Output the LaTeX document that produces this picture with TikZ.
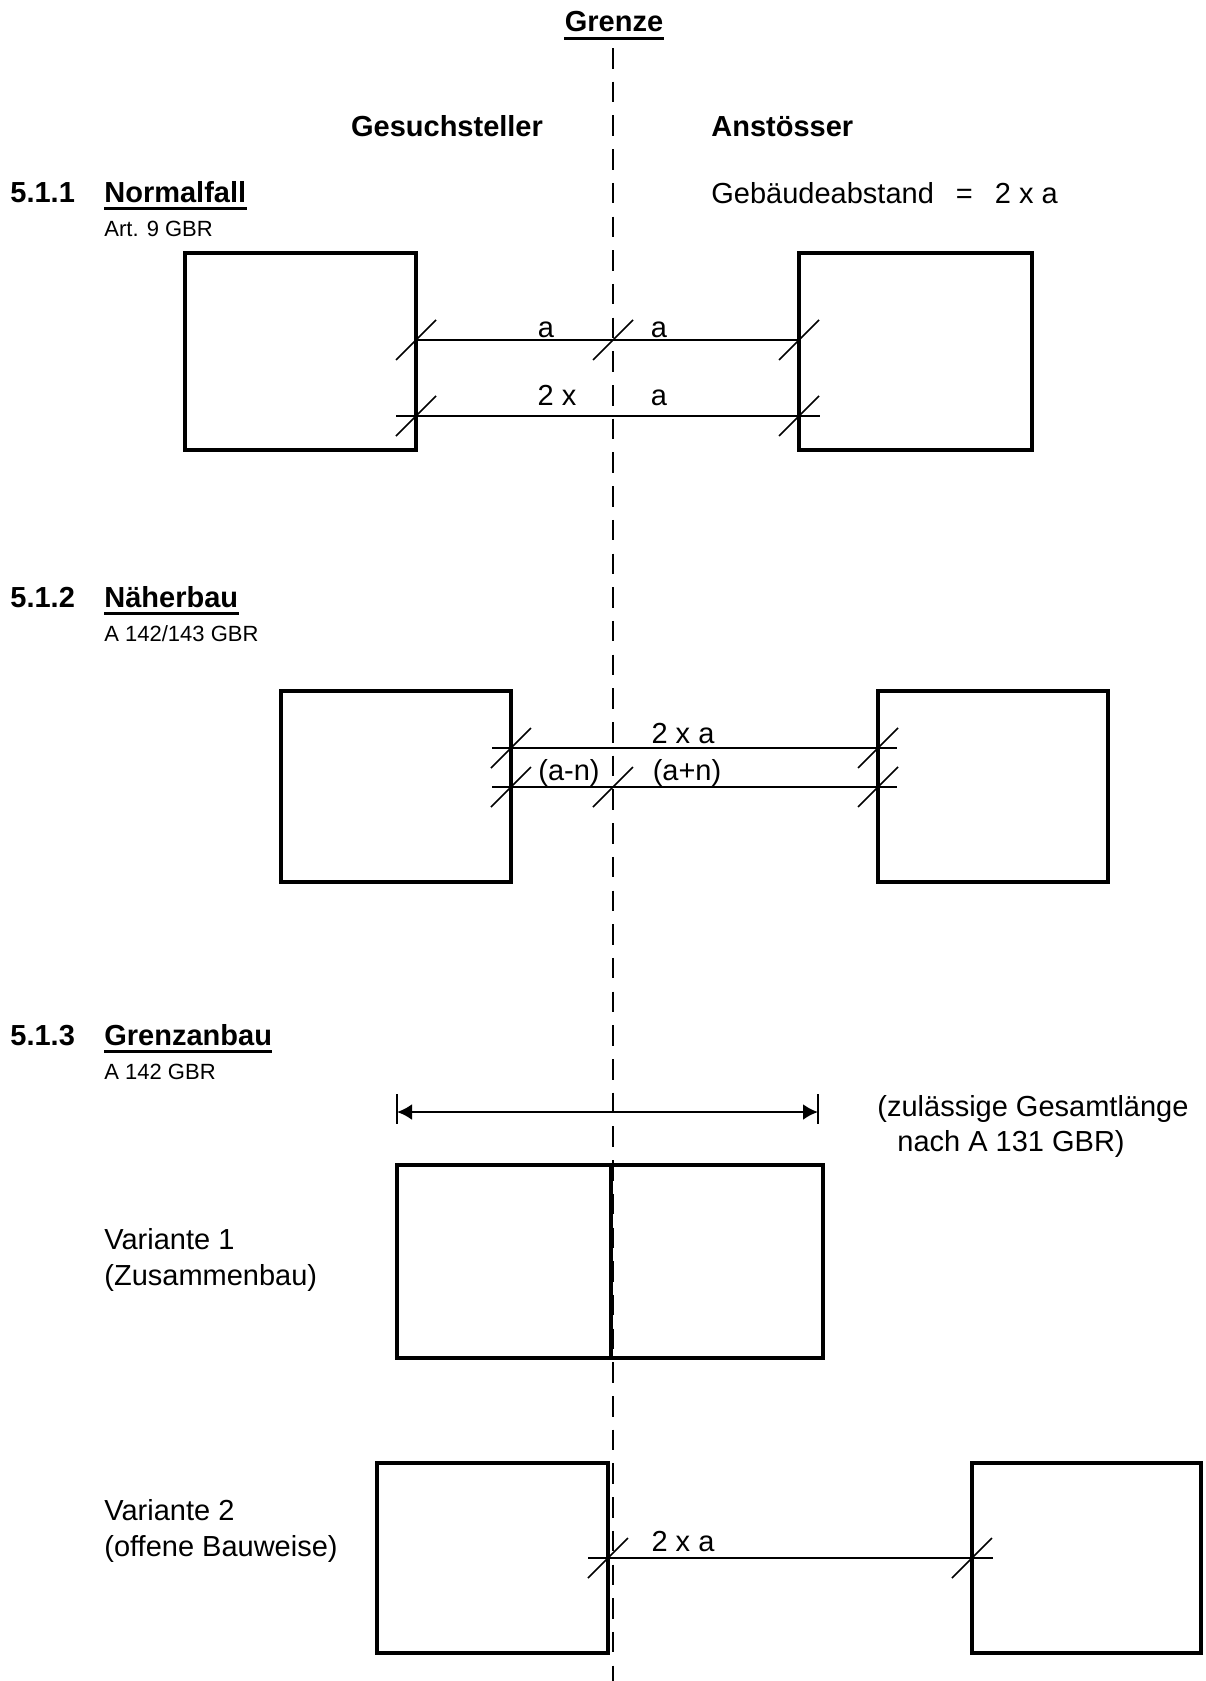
\documentclass[tikz,border=0pt]{standalone}
\usepackage{fontspec}
\setmainfont{Liberation Sans}
\usetikzlibrary{arrows.meta}
\tikzset{
  txt/.style={inner sep=0pt, anchor=base west, font=\fontsize{14.5}{17}\selectfont},
  txtc/.style={inner sep=0pt, anchor=base, font=\fontsize{14.5}{17}\selectfont},
  btxt/.style={inner sep=0pt, anchor=base west, font=\fontsize{14.5}{17}\selectfont\bfseries},
  stxt/.style={inner sep=0pt, anchor=base west, font=\fontsize{11}{13}\selectfont},
  house/.style={line width=1.8pt},
  dimline/.style={line width=1pt},
  thindim/.style={line width=0.75pt},
  tickmark/.style={line width=0.75pt},
  grenzline/.style={line width=1.4pt, dash pattern=on 10.25pt off 6.6pt},
  uline/.style={line width=1.5pt}
}
\newcommand{\tk}[1]{\draw[tickmark] (#1) ++(-20,20) -- ++(40,-40);}
\begin{document}
\begin{tikzpicture}[x=0.5pt,y=-0.5pt]
\useasboundingbox[fill=white] (0,0) rectangle (1205,1681);

% Grenze line
\coordinate (gtop) at (613,48);
\coordinate (gbot) at (613,1681);
\draw[grenzline] (gtop) -- (gbot);

% headings
\node[inner sep=0pt, anchor=base, font=\fontsize{14.5}{17}\selectfont\bfseries] (grenze) at (614,32) {Grenze};
\draw[uline] ([yshift=-3pt]grenze.base west) -- ([yshift=-3pt]grenze.base east);
\node[inner sep=0pt, anchor=base, font=\fontsize{14.5}{17}\selectfont\bfseries] (gesuch) at (447,136) {Gesuchsteller};
\node[btxt] (anst) at (711,136) {Anstösser};

% 5.1.1
\node[btxt] (n511) at (10,202) {5.1.1};
\node[btxt] (normal) at (104,202) {Normalfall};
\draw[uline] ([yshift=-3pt]normal.base west) -- ([yshift=-3pt]normal.base east);
\node[stxt] (art9) at (104,236) {Art. 9 GBR};
\node[txt] (gebaeude) at (711,203) {Gebäudeabstand\hspace{11pt}=\hspace{11pt}2 x a};

\draw[house] (185,253) rectangle (416,450);
\draw[house] (799,253) rectangle (1032,450);
\coordinate (l1a) at (416,340);
\coordinate (l1m) at (613,340);
\coordinate (l1b) at (799,340);
\draw[dimline] (l1a) -- (l1b);
\tk{l1a}\tk{l1m}\tk{l1b}
\coordinate (l2s) at (396,416);
\coordinate (l2e) at (820,416);
\coordinate (l2a) at (416,416);
\coordinate (l2b) at (799,416);
\draw[thindim] (l2s) -- (l2e);
\tk{l2a}\tk{l2b}
\node[txtc] (la1) at (546,337) {a};
\node[txtc] (la2) at (659,337) {a};
\node[txtc] (l2x) at (557,405) {2 x};
\node[txtc] (la3) at (659,405) {a};

% 5.1.2
\node[btxt] (n512) at (10,607) {5.1.2};
\node[btxt] (naeher) at (104,607) {Näherbau};
\draw[uline] ([yshift=-3pt]naeher.base west) -- ([yshift=-3pt]naeher.base east);
\node[stxt] (a143) at (104,641) {A 142/143 GBR};

\draw[house] (281,691) rectangle (511,882);
\draw[house] (878,691) rectangle (1108,882);
\coordinate (m1s) at (492,748);
\coordinate (m1e) at (897,748);
\coordinate (m1a) at (511,748);
\coordinate (m1b) at (878,748);
\draw[thindim] (m1s) -- (m1e);
\tk{m1a}\tk{m1b}
\coordinate (m2s) at (492,787);
\coordinate (m2e) at (897,787);
\coordinate (m2a) at (511,787);
\coordinate (m2m) at (613,787);
\coordinate (m2b) at (878,787);
\draw[dimline] (m2s) -- (m2e);
\tk{m2a}\tk{m2m}\tk{m2b}
\node[txtc] (m2xa) at (683,743) {2 x a};
\node[txtc] (amn) at (569,780) {(a-n)};
\node[txtc] (apn) at (687,780) {(a+n)};

% 5.1.3
\node[btxt] (n513) at (10,1045) {5.1.3};
\node[btxt] (grenzan) at (104,1045) {Grenzanbau};
\draw[uline] ([yshift=-3pt]grenzan.base west) -- ([yshift=-3pt]grenzan.base east);
\node[stxt] (a142) at (104,1079) {A 142 GBR};

\coordinate (arL) at (397,1112);
\coordinate (arR) at (818,1112);
\draw[line width=1.25pt, {Latex[length=7.5pt,width=8pt]}-{Latex[length=7.5pt,width=8pt]}] (arL) -- (arR);
\draw[line width=0.9pt] (397,1094) -- (397,1124);
\draw[line width=0.9pt] (818,1094) -- (818,1124);
\node[txt] (zul1) at (877,1116) {(zulässige Gesamtlänge};
\node[txt] (zul2) at (897,1151) {nach A 131 GBR)};

\node[txt] (v1a) at (104,1249) {Variante 1};
\node[txt] (v1b) at (104,1285) {(Zusammenbau)};
\draw[house] (397,1165) rectangle (823,1358);
\draw[house] (611,1165) -- (611,1358);

\node[txt] (v2a) at (104,1520) {Variante 2};
\node[txt] (v2b) at (104,1556) {(offene Bauweise)};
\draw[house] (377,1463) rectangle (608,1653);
\draw[house] (972,1463) rectangle (1201,1653);
\coordinate (v2s) at (588,1558);
\coordinate (v2e) at (993,1558);
\coordinate (v2a1) at (608,1558);
\coordinate (v2b1) at (972,1558);
\draw[thindim] (v2s) -- (v2e);
\tk{v2a1}\tk{v2b1}
\node[txtc] (v2xa) at (683,1551) {2 x a};
\end{tikzpicture}
\end{document}
